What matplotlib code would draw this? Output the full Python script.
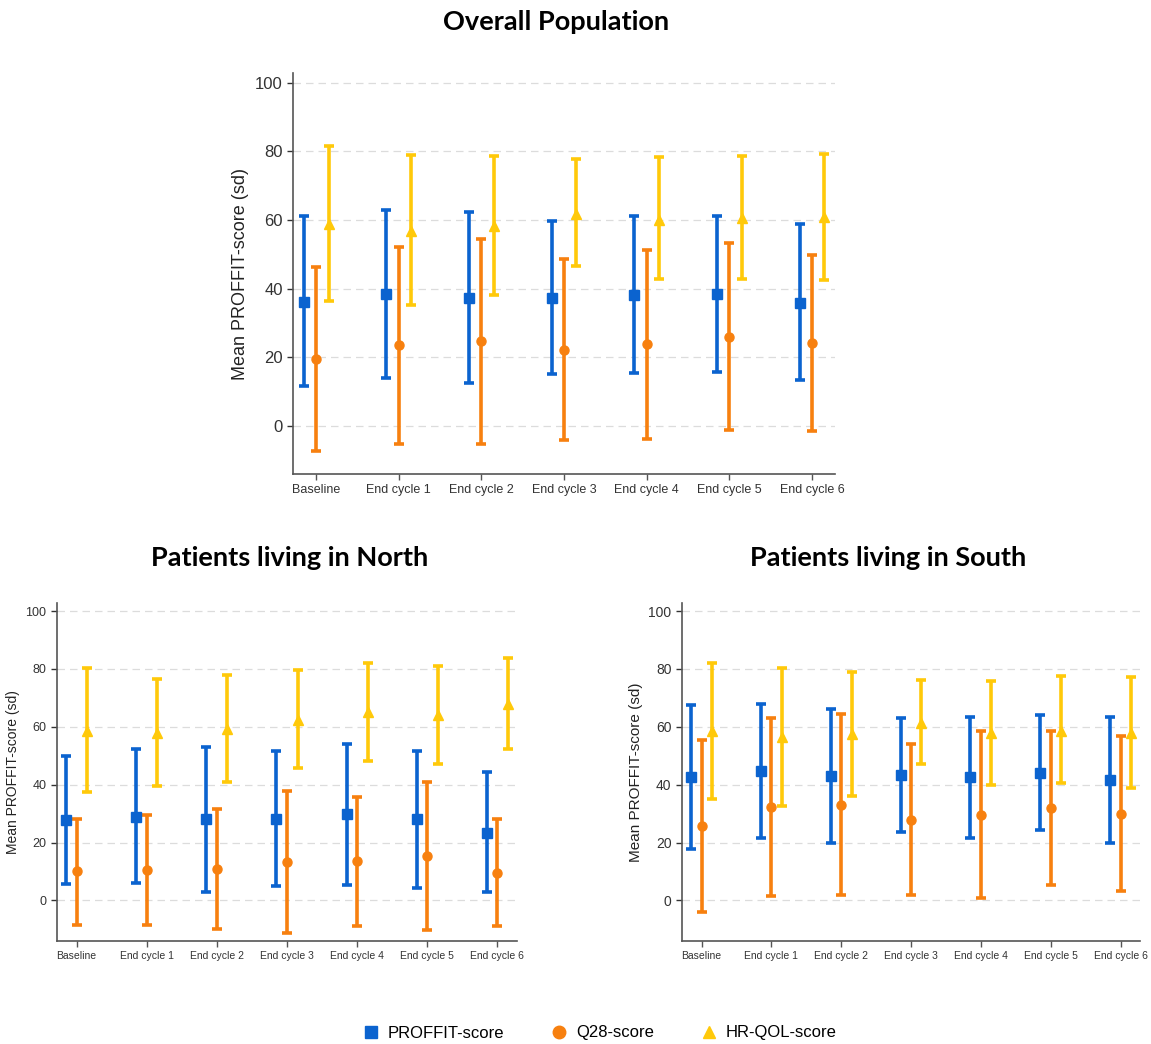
import numpy as np
import matplotlib
matplotlib.use('Agg')
import matplotlib.pyplot as plt
from matplotlib.lines import Line2D

plt.rcParams['font.family'] = ['Liberation Sans', 'DejaVu Sans']

# categories
timepoints = ['Baseline', 'End cycle 1', 'End cycle 2', 'End cycle 3',
              'End cycle 4', 'End cycle 5', 'End cycle 6']

# overall population: mean, mean-sd, mean+sd
overall_proffit = [36.2, 38.3, 37.3, 37.3, 38.1, 38.3, 35.9]
overall_proffit_lo = [11.6, 14.1, 12.6, 15.0, 15.4, 15.8, 13.3]
overall_proffit_hi = [61.3, 62.8, 62.4, 59.8, 61.3, 61.3, 58.9]
overall_q28 = [19.4, 23.5, 24.7, 22.1, 23.8, 25.9, 24.1]
overall_q28_lo = [-7.3, -5.3, -5.3, -4.2, -3.9, -1.3, -1.6]
overall_q28_hi = [46.3, 52.2, 54.6, 48.7, 51.4, 53.2, 49.7]
overall_hrqol = [58.7, 56.7, 58.2, 61.6, 60.1, 60.6, 60.8]
overall_hrqol_lo = [36.4, 35.2, 38.2, 46.6, 42.7, 42.7, 42.5]
overall_hrqol_hi = [81.5, 78.9, 78.7, 77.8, 78.4, 78.7, 79.2]

# patients living in North
north_proffit = [27.8, 28.9, 28.0, 28.0, 29.7, 28.0, 23.4]
north_proffit_lo = [5.6, 6.0, 2.8, 5.0, 5.3, 4.2, 2.8]
north_proffit_hi = [49.9, 52.2, 52.9, 51.5, 53.9, 51.7, 44.4]
north_q28 = [10.0, 10.6, 10.8, 13.4, 13.6, 15.4, 9.6]
north_q28_lo = [-8.4, -8.4, -9.9, -11.2, -8.7, -10.1, -8.7]
north_q28_hi = [28.3, 29.4, 31.5, 37.8, 35.7, 40.9, 28.0]
north_hrqol = [58.7, 57.8, 59.3, 62.4, 65.0, 63.9, 67.7]
north_hrqol_lo = [37.5, 39.4, 40.9, 45.8, 48.2, 47.2, 52.4]
north_hrqol_hi = [80.4, 76.6, 78.0, 79.7, 81.9, 81.1, 83.6]

# patients living in South
south_proffit = [42.7, 44.6, 43.0, 43.2, 42.5, 44.0, 41.5]
south_proffit_lo = [17.8, 21.7, 20.0, 23.5, 21.7, 24.2, 20.0]
south_proffit_hi = [67.5, 67.8, 66.2, 63.0, 63.4, 64.1, 63.4]
south_q28 = [25.8, 32.3, 32.9, 27.9, 29.4, 31.9, 29.8]
south_q28_lo = [-3.9, 1.4, 1.8, 1.8, 0.7, 5.4, 3.4]
south_q28_hi = [55.6, 63.1, 64.4, 53.9, 58.5, 58.5, 56.7]
south_hrqol = [58.7, 56.4, 57.6, 61.4, 57.8, 58.7, 57.8]
south_hrqol_lo = [35.2, 32.8, 36.2, 47.2, 39.8, 40.6, 38.9]
south_hrqol_hi = [82.2, 80.4, 79.0, 76.1, 75.9, 77.6, 77.3]

series_names = ['PROFFIT-score', 'Q28-score', 'HR-QOL-score']
colors = ['#0b63cf', '#f7800f', '#ffc90a']
markers = ['s', 'o', '^']
offsets = [-0.15, 0.0, 0.15]


def draw_panel(ax, series, ylabel_size, xtick_size):
    x = np.arange(len(timepoints))
    for (mean, lo, hi), c, m, off in zip(series, colors, markers, offsets):
        mean = np.array(mean)
        err = [mean - np.array(lo), np.array(hi) - mean]
        ax.errorbar(x + off, mean, yerr=err, fmt=m, color=c, ecolor=c,
                    elinewidth=2.6, capsize=3.3, capthick=2.6, markersize=6.5,
                    zorder=3)
    ax.set_xlim(-0.28, 6.28)
    ax.set_ylim(-14, 102.8)
    ax.set_yticks([0, 20, 40, 60, 80, 100])
    ax.set_xticks(x)
    ax.set_xticklabels(timepoints, fontsize=xtick_size, color='#333333')
    ax.tick_params(axis='y', labelsize=ylabel_size - 1, colors='#333333',
                   length=4, width=1)
    ax.tick_params(axis='x', length=4, width=1, colors='#555555',
                   labelcolor='#333333')
    ax.yaxis.grid(True, linestyle=(0, (6, 4)), color='#dcdcdc', linewidth=0.9)
    ax.set_axisbelow(True)
    for s in ['top', 'right']:
        ax.spines[s].set_visible(False)
    for s in ['left', 'bottom']:
        ax.spines[s].set_color('#555555')
        ax.spines[s].set_linewidth(1.2)
    ax.set_ylabel('Mean PROFFIT-score (sd)', fontsize=ylabel_size,
                  color='#222222')


fig = plt.figure(figsize=(11.51, 10.44), dpi=100)

ax_top = fig.add_axes([0.2546, 0.546, 0.4709, 0.384])
draw_panel(ax_top, [(overall_proffit, overall_proffit_lo, overall_proffit_hi),
                    (overall_q28, overall_q28_lo, overall_q28_hi),
                    (overall_hrqol, overall_hrqol_lo, overall_hrqol_hi)],
           13, 9)

ax_north = fig.add_axes([0.0495, 0.0987, 0.3997, 0.3238])
draw_panel(ax_north, [(north_proffit, north_proffit_lo, north_proffit_hi),
                      (north_q28, north_q28_lo, north_q28_hi),
                      (north_hrqol, north_hrqol_lo, north_hrqol_hi)],
           10, 7.5)

ax_south = fig.add_axes([0.5925, 0.0987, 0.398, 0.3238])
draw_panel(ax_south, [(south_proffit, south_proffit_lo, south_proffit_hi),
                      (south_q28, south_q28_lo, south_q28_hi),
                      (south_hrqol, south_hrqol_lo, south_hrqol_hi)],
           11, 7.5)

title_font = dict(fontsize=19.5, fontweight='bold', family=['Lato', 'DejaVu Sans'],
                  ha='center', va='center', color='black')
fig.text(556 / 1151, 1 - 22 / 1044, 'Overall Population', **title_font)
fig.text(290 / 1151, 1 - 558 / 1044, 'Patients living in North', **title_font)
fig.text(888 / 1151, 1 - 558 / 1044, 'Patients living in South', **title_font)

handles = [Line2D([], [], linestyle='none', marker=m, color=c, markersize=9)
           for m, c in zip(markers, colors)]
fig.legend(handles, series_names, loc='center', ncol=3, frameon=False,
           bbox_to_anchor=(0.521, 1 - 1033 / 1044), fontsize=12,
           handlelength=1.0, handletextpad=0.5, columnspacing=2.8)

fig.savefig('out.png', dpi=100)
